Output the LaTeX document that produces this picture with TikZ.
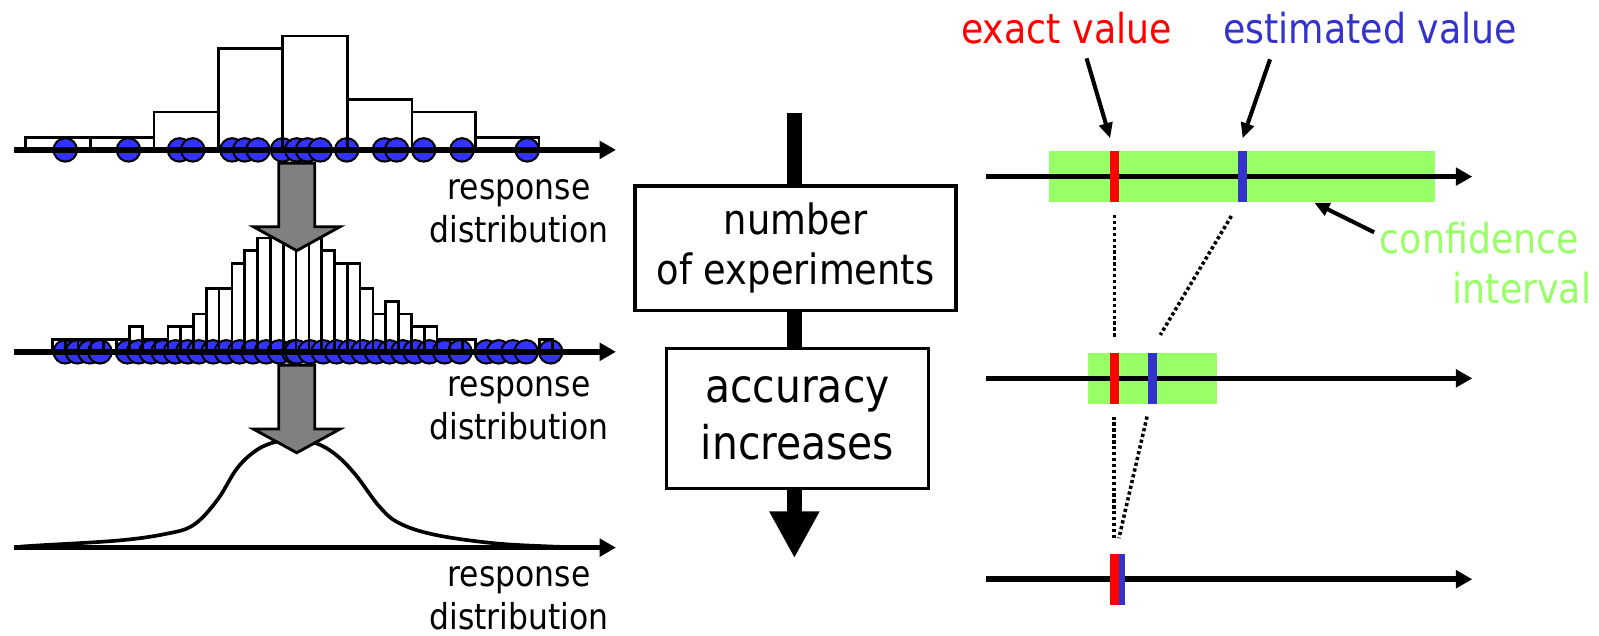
\documentclass[tikz,border=0pt]{standalone}
\usepackage{fontspec}
\setmainfont{DejaVu Sans}[FakeStretch=0.88]
\usetikzlibrary{arrows.meta}
\definecolor{dotblue}{HTML}{3333FF}
\definecolor{valblue}{HTML}{3333CC}
\definecolor{cigreen}{HTML}{99FF66}
\definecolor{arrgray}{HTML}{808080}
\pgfdeclarelayer{bg}
\pgfsetlayers{bg,main}
\begin{document}
\begin{tikzpicture}[x=1pt,y=-1pt,
  axisline/.style={line width=5.5pt,-{Triangle[length=16pt,width=17pt]}},
  histbar/.style={draw=black,line width=2.6pt},
  dotmark/.style={fill=dotblue,draw=black,line width=2pt},
  grayarrow/.style={fill=arrgray,draw=black,line width=2.8pt,line join=miter},
  lbl/.style={inner sep=0pt,anchor=base,font=\fontsize{35}{42}\selectfont},
  vlbl/.style={inner sep=0pt,anchor=base,font=\fontsize{40.5}{48}\selectfont},
  stepbox/.style={draw=black,line width=3.2pt,fill=white,inner sep=0pt,align=center},
  shaft/.style={line width=14.7pt},
  pointer/.style={line width=4pt,-{Triangle[length=15pt,width=13pt]}},
  dotline/.style={line width=3.5pt,dash pattern=on 3.2pt off 2.6pt}
]
\useasboundingbox (0,0) rectangle (1568,623);

% ---------- left panel, row 1 ----------
\foreach \x in {64,126,176,189,227.5,240,253,277,291,301.5,314,340,377,389,415.5,453,517}
  \filldraw[dotmark] (\x,147) circle[radius=11.5pt];
\foreach \a/\b/\c in {25/89/1,89/151/1,151/214.5/3,214.5/277/8,277/341/9,341/404/4,404/466/3,466/528.5/1}
  \draw[histbar] (\a,147) rectangle (\b,{147-12.4*\c});
\coordinate (a1s) at (14,147);
\coordinate (a1e) at (604,147);
\draw[axisline] (a1s) -- (a1e);
\node[lbl] (rd1a) at (508.9,196) {response};
\node[lbl] (rd1b) at (508.9,238) {distribution};

% ---------- left panel, row 2 ----------
\foreach \x in {64,76,88,98,125,136,148,160,172,184,195,209,222,235,248,261,274,288,291,304,317,330,343,356,369,382,395,407,421,436,451,477,489,503,516,540}
  \filldraw[dotmark] (\x,345) circle[radius=11.5pt];
\foreach \k/\c in {0/1,1/1,2/1,3/1,4/1,5/1,6/2,7/1,8/1,9/2,10/2,11/3,12/5,13/5,14/7,15/8,16/9,17/9,18/9,19/9,20/9,21/8,22/7,23/7,24/5,25/3,26/4,27/3,28/2,29/2,30/1,31/1,32/1,38/1}
  \draw[histbar] ({51.5+12.57*\k},345) rectangle ({51.5+12.57*(\k+1)},{345-12.4*\c});
\coordinate (a2s) at (14,345);
\coordinate (a2e) at (604,345);
\draw[axisline] (a2s) -- (a2e);
\node[lbl] (rd2a) at (508.9,389) {response};
\node[lbl] (rd2b) at (508.9,431) {distribution};

% gray arrow 1
\draw[grayarrow] (273.3,160) -- (308.7,160) -- (308.7,222.3) -- (333.5,222.3) -- (291,245.8) -- (248.5,222.3) -- (273.3,222.3) -- cycle;

% ---------- left panel, row 3 ----------
\coordinate (a3s) at (14,537);
\coordinate (a3e) at (604,537);
\draw[axisline] (a3s) -- (a3e);
\draw[line width=3.6pt,line join=round] plot[smooth,tension=0.6] coordinates {
 (20,536) (38.8,534.8) (116.3,530) (162.8,523.5) (189.9,514.7) (213.2,490.2) (232.6,459.1) (251.9,441.2)
 (271.3,433) (289.9,431.4) (310,434.6) (329.5,446) (348.8,465.7) (372,496.7) (391.5,513)
 (426.4,524.4) (484.5,532.7) (542.6,536) (570,536.5)};
\node[lbl] (rd3a) at (508.9,575.2) {response};
\node[lbl] (rd3b) at (508.9,617.6) {distribution};

% gray arrow 2
\draw[grayarrow] (273.3,358) -- (308.7,358) -- (308.7,420.7) -- (333.5,420.7) -- (291,444) -- (248.5,420.7) -- (273.3,420.7) -- cycle;

% ---------- centre ----------
\coordinate (ctop) at (779,111);
\coordinate (cbot) at (779,547.4);
\node[stepbox,minimum width=314.8pt,minimum height=122.2pt,font=\fontsize{41}{49}\selectfont] (nexp) at (780.1,243.5) {number\\of experiments};
\node[stepbox,minimum width=256.6pt,minimum height=137.3pt,font=\fontsize{45.5}{55.7}\selectfont] (acc) at (782,410.2) {accuracy\\increases};
\begin{pgfonlayer}{bg}
\draw[shaft] (ctop) -- (ctop |- nexp.north);
\draw[shaft] (ctop |- nexp.south) -- (ctop |- acc.north);
\draw[shaft,-{Triangle[length=46pt,width=46pt]}] (ctop |- acc.south) -- (cbot);
\end{pgfonlayer}

% ---------- right panel ----------
\fill[cigreen] (1028.2,148) rectangle (1407.2,197.8);
\fill[cigreen] (1066.7,345.8) rectangle (1193.4,396.2);
\coordinate (r1s) at (967,173.2);
\coordinate (r1e) at (1443.7,173.2);
\coordinate (r2s) at (967,371);
\coordinate (r2e) at (1443.7,371);
\coordinate (r3s) at (967,568);
\coordinate (r3e) at (1443.7,568);
\draw[axisline] (r1s) -- (r1e);
\draw[axisline] (r2s) -- (r2e);
\draw[axisline] (r3s) -- (r3e);
\fill[red] (1088.6,148) rectangle (1097.2,197.8);
\fill[valblue] (1214,148) rectangle (1223,197.8);
\fill[red] (1088.6,345.8) rectangle (1097.2,396.2);
\fill[valblue] (1125.5,345.8) rectangle (1134.5,396.2);
\fill[red] (1088.6,543.2) rectangle (1097.2,593.2);
\fill[valblue] (1097.2,543.2) rectangle (1103.2,593.2);

\coordinate (d1a) at (1093,210.8);   \coordinate (d1b) at (1093,330.7);
\coordinate (d2a) at (1207.5,211.8); \coordinate (d2b) at (1137.8,328.4);
\coordinate (d3a) at (1092.6,408.5); \coordinate (d3b) at (1092.6,527.8);
\coordinate (d4a) at (1124.8,408.5); \coordinate (d4b) at (1097.2,527.8);
\draw[dotline] (d1a) -- (d1b);
\draw[dotline] (d2a) -- (d2b);
\draw[dotline] (d3a) -- (d3b);
\draw[dotline] (d4a) -- (d4b);

\node[vlbl,text=red] (exact) at (1045.8,42.5) {exact value};
\node[vlbl,text=valblue] (estim) at (1343.5,42.5) {estimated value};
\node[vlbl,text=cigreen,anchor=base east] (conf) at (1548.4,248.4) {confidence};
\node[vlbl,text=cigreen,anchor=base east] (intv) at (1560.6,297.4) {interval};

\coordinate (pe1) at (1065.5,57.2);  \coordinate (pe2) at (1088.6,135.6);
\coordinate (ps1) at (1245.4,58.2);  \coordinate (ps2) at (1218.5,135.6);
\coordinate (pc1) at (1347.5,227.8); \coordinate (pc2) at (1288.7,198.7);
\draw[pointer] (pe1) -- (pe2);
\draw[pointer] (ps1) -- (ps2);
\draw[pointer] (pc1) -- (pc2);
\end{tikzpicture}
\end{document}
